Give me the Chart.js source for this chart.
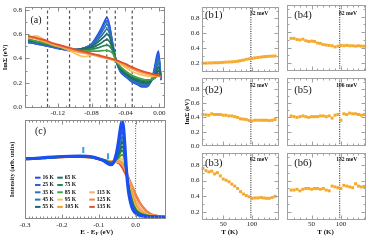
<!DOCTYPE html>
<html><head><meta charset="utf-8"><title>ImΣ panels</title>
<script src="https://cdn.jsdelivr.net/npm/chart.js@4.4.1/dist/chart.umd.min.js"></script>
<style>
html,body{margin:0;padding:0;background:#fff;overflow:hidden}
#fig{position:relative;width:374px;height:241px;background:#fff}
#fig canvas{position:absolute;left:0;top:0}
</style></head><body>
<div id="fig">
<canvas id="cA" width="374" height="241"></canvas>
<canvas id="cC" width="374" height="241"></canvas>
<canvas id="cB1" width="374" height="241"></canvas>
<canvas id="cB2" width="374" height="241"></canvas>
<canvas id="cB3" width="374" height="241"></canvas>
<canvas id="cB4" width="374" height="241"></canvas>
<canvas id="cB5" width="374" height="241"></canvas>
<canvas id="cB6" width="374" height="241"></canvas>
</div>
<script>
// ---------------- data ----------------
const temps = ['16 K','25 K','35 K','45 K','55 K','65 K','75 K','85 K','95 K','105 K','115 K','125 K','135 K'];
const tempColors = ['#1c4ff2','#2d63db','#2c70c2','#2a76a3','#1e6577','#1d705c','#2a8450','#44a049','#f6c35e','#f29b2e','#f6ad77','#ef8446','#e4502b'];

// panel (a): ImSigma vs energy
const energyA = [-0.155,-0.145,-0.135,-0.125,-0.115,-0.105,-0.095,-0.087,-0.080,-0.074,-0.069,-0.065,-0.062,-0.059,-0.055,-0.051,-0.046,-0.040,-0.033,-0.026,-0.020,-0.015,-0.010,-0.006,-0.003,-0.001,0.002];
const imS16  = [0.53,0.52,0.505,0.49,0.475,0.465,0.47,0.49,0.52,0.58,0.64,0.70,0.735,0.68,0.52,0.38,0.29,0.25,0.21,0.185,0.165,0.165,0.21,0.31,0.42,0.46,0.22];
const imS25  = [0.535,0.52,0.505,0.49,0.478,0.468,0.472,0.49,0.515,0.57,0.625,0.68,0.71,0.665,0.515,0.38,0.295,0.255,0.215,0.19,0.172,0.172,0.21,0.30,0.39,0.43,0.23];
const imS35  = [0.54,0.525,0.51,0.495,0.48,0.47,0.475,0.49,0.51,0.555,0.605,0.65,0.68,0.64,0.51,0.38,0.30,0.26,0.222,0.198,0.18,0.18,0.21,0.28,0.36,0.40,0.235];
const imS45  = [0.545,0.53,0.515,0.5,0.485,0.473,0.475,0.488,0.505,0.54,0.58,0.615,0.64,0.61,0.50,0.38,0.305,0.265,0.23,0.206,0.19,0.188,0.21,0.265,0.33,0.365,0.24];
const imS55  = [0.55,0.535,0.52,0.503,0.487,0.475,0.475,0.485,0.498,0.525,0.555,0.58,0.60,0.58,0.49,0.38,0.31,0.272,0.238,0.215,0.2,0.197,0.21,0.25,0.30,0.33,0.24];
const imS65  = [0.55,0.535,0.52,0.503,0.488,0.475,0.472,0.478,0.488,0.505,0.525,0.545,0.555,0.54,0.475,0.38,0.318,0.28,0.246,0.224,0.21,0.206,0.215,0.24,0.275,0.30,0.245];
const imS75  = [0.555,0.54,0.522,0.505,0.49,0.475,0.468,0.47,0.476,0.485,0.495,0.505,0.51,0.5,0.46,0.38,0.325,0.288,0.255,0.233,0.22,0.215,0.22,0.235,0.258,0.275,0.245];
const imS85  = [0.56,0.54,0.525,0.505,0.49,0.475,0.462,0.46,0.46,0.46,0.462,0.465,0.465,0.46,0.44,0.38,0.333,0.297,0.264,0.242,0.23,0.224,0.226,0.235,0.25,0.26,0.245];
const imS95  = [0.57,0.585,0.55,0.51,0.49,0.46,0.425,0.415,0.43,0.43,0.42,0.415,0.41,0.405,0.395,0.378,0.355,0.325,0.295,0.275,0.262,0.255,0.25,0.252,0.255,0.258,0.25];
const imS105 = [0.575,0.56,0.535,0.51,0.49,0.47,0.45,0.44,0.43,0.42,0.41,0.405,0.4,0.395,0.386,0.376,0.36,0.34,0.315,0.295,0.28,0.27,0.262,0.258,0.256,0.255,0.25];
const imS115 = [0.58,0.56,0.54,0.515,0.495,0.475,0.455,0.445,0.435,0.425,0.415,0.408,0.403,0.397,0.39,0.38,0.365,0.345,0.32,0.3,0.285,0.275,0.268,0.262,0.258,0.256,0.25];
const imS125 = [0.58,0.565,0.545,0.52,0.5,0.48,0.46,0.448,0.437,0.427,0.418,0.41,0.405,0.4,0.392,0.383,0.37,0.35,0.325,0.305,0.29,0.28,0.272,0.265,0.26,0.258,0.252];
const imS135 = [0.585,0.57,0.55,0.525,0.505,0.485,0.465,0.452,0.44,0.43,0.42,0.413,0.408,0.402,0.395,0.386,0.373,0.355,0.33,0.31,0.295,0.285,0.276,0.268,0.262,0.26,0.255];
const imSigmaA = [imS16,imS25,imS35,imS45,imS55,imS65,imS75,imS85,imS95,imS105,imS115,imS125,imS135];
const cutEnergies = [-0.132,-0.106,-0.082,-0.062,-0.052,-0.032];
const xTicksA = [-0.12,-0.08,-0.04,0.0];
const xLabelsA = ['-0.12','-0.08','-0.04','0.00'];
const yTicksA = [0,0.2,0.4,0.6,0.8];
const yLabelsA = ['0.0','0.2','0.4','0.6','0.8'];

// panel (c): EDCs
const energyC = [-0.30,-0.27,-0.24,-0.21,-0.18,-0.15,-0.12,-0.10,-0.085,-0.075,-0.068,-0.06,-0.052,-0.046,-0.041,-0.037,-0.033,-0.029,-0.025,-0.02,-0.015,-0.01,-0.005,0,0.006,0.012,0.02,0.03,0.045,0.06,0.08];
const edc16  = [0.615,0.62,0.628,0.635,0.64,0.642,0.635,0.615,0.59,0.565,0.555,0.575,0.67,0.80,0.93,1.0,0.94,0.74,0.5,0.3,0.19,0.12,0.08,0.06,0.045,0.035,0.03,0.025,0.022,0.02,0.02];
const edc25  = [0.614,0.62,0.627,0.634,0.64,0.641,0.634,0.614,0.59,0.567,0.558,0.575,0.66,0.78,0.89,0.95,0.9,0.72,0.5,0.31,0.2,0.13,0.09,0.065,0.048,0.037,0.031,0.026,0.022,0.02,0.02];
const edc35  = [0.613,0.619,0.627,0.634,0.639,0.641,0.634,0.614,0.592,0.57,0.56,0.575,0.65,0.75,0.84,0.89,0.85,0.69,0.49,0.31,0.21,0.14,0.095,0.07,0.05,0.04,0.033,0.027,0.023,0.02,0.02];
const edc45  = [0.613,0.619,0.626,0.633,0.638,0.64,0.633,0.613,0.595,0.573,0.563,0.575,0.64,0.72,0.79,0.84,0.80,0.67,0.48,0.32,0.22,0.15,0.10,0.075,0.055,0.043,0.035,0.028,0.023,0.021,0.02];
const edc55  = [0.612,0.618,0.626,0.633,0.638,0.639,0.632,0.613,0.598,0.576,0.566,0.576,0.63,0.70,0.75,0.79,0.76,0.65,0.48,0.33,0.23,0.16,0.11,0.08,0.06,0.046,0.037,0.029,0.024,0.021,0.02];
const edc65  = [0.612,0.618,0.625,0.632,0.637,0.638,0.631,0.612,0.6,0.58,0.57,0.578,0.62,0.67,0.71,0.74,0.72,0.63,0.48,0.34,0.24,0.17,0.12,0.087,0.065,0.05,0.04,0.031,0.025,0.022,0.02];
const edc75  = [0.611,0.617,0.625,0.632,0.636,0.637,0.63,0.612,0.6,0.583,0.575,0.58,0.61,0.65,0.68,0.70,0.685,0.61,0.48,0.35,0.25,0.18,0.13,0.095,0.07,0.054,0.043,0.033,0.026,0.022,0.02];
const edc85  = [0.611,0.617,0.624,0.631,0.636,0.636,0.63,0.611,0.6,0.586,0.578,0.582,0.605,0.625,0.645,0.655,0.645,0.59,0.48,0.36,0.27,0.195,0.14,0.105,0.078,0.06,0.046,0.035,0.027,0.023,0.021];
const edc95  = [0.61,0.616,0.624,0.631,0.635,0.635,0.629,0.611,0.602,0.59,0.582,0.584,0.598,0.61,0.615,0.615,0.60,0.56,0.48,0.38,0.29,0.215,0.16,0.12,0.09,0.068,0.05,0.037,0.028,0.024,0.021];
const edc105 = [0.61,0.616,0.623,0.63,0.634,0.634,0.628,0.61,0.602,0.592,0.585,0.585,0.59,0.595,0.59,0.58,0.565,0.53,0.47,0.40,0.33,0.26,0.2,0.155,0.115,0.085,0.06,0.042,0.03,0.025,0.022];
const edc115 = [0.61,0.615,0.623,0.63,0.634,0.634,0.628,0.61,0.604,0.594,0.587,0.586,0.586,0.585,0.578,0.565,0.545,0.51,0.46,0.41,0.36,0.30,0.245,0.2,0.155,0.115,0.08,0.052,0.035,0.027,0.023];
const edc125 = [0.609,0.615,0.622,0.629,0.633,0.633,0.627,0.609,0.6,0.593,0.588,0.587,0.585,0.58,0.57,0.555,0.535,0.51,0.475,0.435,0.39,0.345,0.30,0.255,0.21,0.165,0.12,0.075,0.045,0.032,0.025];
const edc135 = [0.609,0.614,0.622,0.629,0.633,0.632,0.626,0.609,0.598,0.59,0.585,0.585,0.58,0.57,0.55,0.53,0.5,0.47,0.44,0.40,0.36,0.32,0.28,0.24,0.20,0.16,0.12,0.08,0.045,0.03,0.025];
const edcC = [edc16,edc25,edc35,edc45,edc55,edc65,edc75,edc85,edc95,edc105,edc115,edc125,edc135];
const markerE = [-0.142,-0.075];
const markerI = [0.705,0.64];
const xTicksC = [-0.3,-0.2,-0.1,0.0];
const xLabelsC = ['-0.3','-0.2','-0.1','0.0'];

// panels (b1)-(b6): ImSigma vs T at fixed energies
const tempB = [15,20,25,30,35,40,45,50,55,60,65,70,75,80,85,90,95,100,105,110,115,120,125,130,135,140];
const imB1 = [0.205,0.205,0.207,0.208,0.21,0.21,0.212,0.215,0.218,0.22,0.222,0.225,0.23,0.238,0.245,0.255,0.262,0.268,0.275,0.28,0.285,0.29,0.293,0.296,0.298,0.3];
const imB2 = [0.44,0.435,0.43,0.45,0.44,0.44,0.44,0.43,0.43,0.42,0.42,0.41,0.40,0.38,0.375,0.37,0.355,0.35,0.36,0.36,0.36,0.36,0.36,0.355,0.36,0.37];
const imB3 = [0.755,0.725,0.71,0.72,0.685,0.70,0.66,0.62,0.605,0.585,0.555,0.53,0.50,0.46,0.43,0.41,0.395,0.375,0.38,0.38,0.385,0.38,0.375,0.375,0.385,0.40];
const imB4 = [0.52,0.52,0.505,0.5,0.51,0.49,0.48,0.485,0.48,0.46,0.455,0.44,0.435,0.43,0.425,0.41,0.42,0.43,0.425,0.43,0.425,0.425,0.42,0.425,0.42,0.42];
const imB5 = [0.42,0.41,0.40,0.41,0.42,0.41,0.40,0.41,0.41,0.41,0.42,0.42,0.41,0.42,0.39,0.43,0.44,0.36,0.45,0.44,0.46,0.45,0.45,0.44,0.43,0.44];
const imB6 = [0.48,0.48,0.49,0.47,0.49,0.5,0.5,0.49,0.5,0.5,0.49,0.5,0.48,0.47,0.53,0.52,0.51,0.5,0.54,0.53,0.52,0.51,0.56,0.53,0.52,0.525];
const panelNamesB = ['(b1)','(b2)','(b3)','(b4)','(b5)','(b6)'];
const cutLabelsB = ['32 meV','52 meV','62 meV','82 meV','106 meV','132 meV'];
const tcB = 98;
const xTicksB = [50,100];
const xLabelsB = ['50','100'];
const yTicksB = [0.2,0.4,0.6,0.8];
const yLabelsB = ['0.2','0.4','0.6','0.8'];
const yTicksB2 = [0,0.2,0.4,0.6,0.8];
const yLabelsB2 = ['0.0','0.2','0.4','0.6','0.8'];

// ---------------- drawing ----------------
const W = 374, H = 241;
const SERIF = "'Liberation Serif','Times New Roman',serif";
const bOrange = '#f6a92a';

function steps(a, b, s) { const o = []; const n = Math.round((b - a) / s); for (let i = 0; i <= n; i++) o.push(+(a + i * s).toFixed(6)); return o; }

function framePlugin(f) {
  return { id: 'frame', afterDatasetsDraw(chart) {
    const { ctx, chartArea: a } = chart; const x = chart.scales.x, y = chart.scales.y;
    const L = Math.floor(a.left) + 0.5, R = Math.ceil(a.right) - 0.5, T = Math.floor(a.top) + 0.5, B = Math.ceil(a.bottom) - 0.5;
    ctx.save(); ctx.strokeStyle = f.color || '#8f8f8f'; ctx.lineWidth = 1; ctx.setLineDash([]);
    ctx.beginPath();
    const vx = (vals, len) => vals.forEach(v => { const p = Math.round(x.getPixelForValue(v)) + 0.5; if (p < L + 0.9 || p > R - 0.9) return; ctx.moveTo(p, B); ctx.lineTo(p, B - len); ctx.moveTo(p, T); ctx.lineTo(p, T + len); });
    const vy = (vals, len) => vals.forEach(v => { const p = Math.round(y.getPixelForValue(v)) + 0.5; if (p < T + 0.9 || p > B - 0.9) return; ctx.moveTo(L, p); ctx.lineTo(L + len, p); ctx.moveTo(R, p); ctx.lineTo(R - len, p); });
    if (f.xMajor) vx(f.xMajor, 4); if (f.xMinor) vx(f.xMinor, 2);
    if (f.yMajor) vy(f.yMajor, 4); if (f.yMinor) vy(f.yMinor, 2);
    ctx.stroke();
    ctx.strokeRect(L, T, R - L, B - T);
    ctx.restore();
  }};
}

function textPlugin(items) {
  return { id: 'texts', afterDraw(chart) {
    const ctx = chart.ctx;
    items.forEach(it => {
      ctx.save(); ctx.fillStyle = it.color || '#111'; ctx.textBaseline = 'middle';
      let x = it.x;
      if (it.xv !== undefined) x = chart.scales.x.getPixelForValue(it.xv) + (it.dx || 0);
      if (it.parts) {
        let total = 0;
        it.parts.forEach(p => { ctx.font = p.font; total += ctx.measureText(p.t).width; });
        let px = x - total / 2;
        it.parts.forEach(p => { ctx.font = p.font; ctx.textAlign = 'left'; ctx.fillText(p.t, px, it.y + (p.dy || 0)); px += ctx.measureText(p.t).width; });
      } else {
        ctx.font = it.font; ctx.textAlign = it.align || 'left'; ctx.fillText(it.t, x, it.y);
      }
      ctx.restore();
    });
  }};
}

function legendPlugin(o) {
  return { id: 'edcLegend', afterDraw(chart) {
    const ctx = chart.ctx; ctx.save();
    temps.forEach((label, i) => {
      const col = i < 5 ? 0 : i < 10 ? 1 : 2;
      const row = i < 5 ? i : i < 10 ? i - 5 : i - 8;
      const x = o.colX[col], y = o.y0 + row * o.dy;
      ctx.strokeStyle = tempColors[i]; ctx.lineWidth = 2;
      ctx.beginPath(); ctx.moveTo(x, y); ctx.lineTo(x + o.len, y); ctx.stroke();
      ctx.fillStyle = '#111'; ctx.font = o.font; ctx.textBaseline = 'middle'; ctx.textAlign = 'left';
      ctx.fillText(label, x + o.len + 2, y);
    });
    ctx.restore();
  }};
}

function build(id, box, o) {
  const yW = box.yW || 0, xH = box.xH || 0;
  const tickFont = { family: SERIF, size: 7 };
  const cfg = {
    type: 'line',
    data: { datasets: o.datasets },
    options: {
      responsive: false, animation: false, devicePixelRatio: 1, events: [],
      layout: { padding: { left: box.l - yW, top: box.t, right: W - box.r, bottom: H - box.b - xH } },
      plugins: { legend: { display: false }, tooltip: { enabled: false } },
      elements: { point: { radius: 0 }, line: { tension: 0 } },
      scales: {
        x: {
          type: 'linear', min: o.x.min, max: o.x.max, display: !!o.x.labels,
          grid: { display: false, drawTicks: false }, border: { display: false },
          ticks: { display: !!o.x.labels, autoSkip: false, maxRotation: 0, minRotation: 0, padding: o.x.pad || 0, color: '#1a1a1a', font: tickFont,
                   callback: (v, i) => (o.x.labels ? o.x.labels[i] : '') },
          afterBuildTicks: s => { s.ticks = (o.x.ticks || []).map(v => ({ value: v })); },
          afterFit: s => { s.height = xH; }
        },
        y: {
          type: 'linear', min: o.y.min, max: o.y.max, display: !!(o.y.labels || o.y.title),
          grid: { display: false, drawTicks: false }, border: { display: false },
          title: { display: !!o.y.title, text: o.y.title || '', color: '#111', padding: 0, font: { family: SERIF, size: o.y.titleSize || 6.5, weight: 'bold' } },
          ticks: { display: !!o.y.labels, autoSkip: false, padding: o.y.pad || 0, color: '#1a1a1a', font: tickFont,
                   callback: (v, i) => (o.y.labels ? o.y.labels[i] : '') },
          afterBuildTicks: s => { s.ticks = (o.y.ticks || []).map(v => ({ value: v })); },
          afterFit: s => { s.width = yW; }
        }
      }
    },
    plugins: [framePlugin(o.frame), textPlugin(o.texts || []), ...(o.extra || [])]
  };
  return new Chart(document.getElementById(id), cfg);
}

// ----- panel (a)
const yMinA = 0, yMaxA = 0.817;
const dsA = imSigmaA.map((arr, i) => ({
  data: arr.map((v, j) => ({ x: energyA[j], y: v })),
  borderColor: tempColors[i], borderWidth: 1.7, pointRadius: 0,
  cubicInterpolationMode: 'monotone', order: imSigmaA.length - i
}));
cutEnergies.forEach(e => dsA.push({
  data: [{ x: e, y: yMinA }, { x: e, y: yMaxA }], borderColor: '#555', borderWidth: 1.2,
  borderDash: [3, 2.5], pointRadius: 0, order: 50
}));
build('cA', { l: 25.5, t: 7, r: 165, b: 107, yW: 23.6, xH: 12 }, {
  datasets: dsA,
  x: { min: -0.158, max: 0.0067, ticks: xTicksA, labels: xLabelsA, pad: 1.5 },
  y: { min: yMinA, max: yMaxA, ticks: yTicksA, labels: yLabelsA, pad: 3.5, title: 'ImΣ (eV)' },
  frame: { color: '#8a8a8a', xMajor: xTicksA, xMinor: steps(-0.15, 0.0, 0.01), yMajor: yTicksA, yMinor: steps(0.1, 0.7, 0.2) },
  texts: [{ t: '(a)', x: 30.5, y: 20.5, font: `10px ${SERIF}` }]
});

// ----- panel (c)
const yMinC = 0, yMaxC = 1.01;
const dsC = edcC.map((arr, i) => ({
  data: arr.map((v, j) => ({ x: energyC[j], y: v })),
  borderColor: tempColors[i], borderWidth: i === 0 ? 3.2 : 2, pointRadius: 0,
  cubicInterpolationMode: 'monotone'
}));
dsC.unshift({
  data: markerE.map((e, i) => ({ x: e, y: markerI[i] })), showLine: false,
  pointStyle: 'line', pointRadius: 3, pointRotation: 90, pointBorderWidth: 2,
  pointBorderColor: '#3a9fe6', borderColor: '#3a9fe6'
});
dsC.push({ data: [{ x: 0, y: yMinC }, { x: 0, y: yMaxC }], borderColor: '#555', borderWidth: 1, borderDash: [1, 1.5], pointRadius: 0, order: 50 });
build('cC', { l: 25, t: 120, r: 165.5, b: 219, yW: 16.6, xH: 16 }, {
  datasets: dsC,
  x: { min: -0.3, max: 0.081, ticks: xTicksC, labels: xLabelsC, pad: 2 },
  y: { min: yMinC, max: yMaxC, title: 'Intensity (arb. units)', titleSize: 6.3 },
  frame: { color: '#8a8a8a', xMajor: xTicksC, xMinor: steps(-0.29, 0.08, 0.01) },
  texts: [
    { t: '(c)', x: 35, y: 131.5, font: `10px ${SERIF}` },
    { x: 96.7, y: 232, parts: [
      { t: 'E - E', font: `bold 7px ${SERIF}` },
      { t: 'F', font: `bold 5px ${SERIF}`, dy: 1.8 },
      { t: ' (eV)', font: `bold 7px ${SERIF}` } ] }
  ],
  extra: [legendPlugin({ colX: [35, 57.3, 89.3], y0: 177.7, dy: 7.3, len: 5.5, font: `bold 5.6px ${SERIF}` })]
});

// ----- panels (b)
const seriesB = [imB1, imB2, imB3, imB4, imB5, imB6];
const rowsB = [{ t: 5, b: 71 }, { t: 78, b: 146 }, { t: 153, b: 220 }];
const colsB = [{ l: 202.5, r: 278.5, min: 14, max: 146 }, { l: 287, r: 365.5, min: 8, max: 142 }];
const nameY = [15.7, 90, 163.5];
const cutY = [14, 85.7, 160];
seriesB.forEach((vals, k) => {
  const col = k < 3 ? 0 : 1, row = k % 3;
  const C = colsB[col], R = rowsB[row];
  const yMin = row === 1 ? 0 : 0.1, yMax = 0.95;
  const ds = [
    { data: vals.map((v, j) => ({ x: tempB[j], y: v })), showLine: false, pointStyle: 'rect',
      pointRadius: 2.1, pointBackgroundColor: bOrange, pointBorderColor: bOrange, pointBorderWidth: 0, clip: false },
    { data: [{ x: tcB, y: yMin }, { x: tcB, y: yMax }], borderColor: '#111', borderWidth: 1, borderDash: [1, 1.3], pointRadius: 0 }
  ];
  const texts = [
    { t: panelNamesB[k], x: C.l + (col === 0 ? 2.5 : 7.3), y: nameY[row], font: `10.5px ${SERIF}` },
    { t: cutLabelsB[k], xv: tcB, dx: cutLabelsB[k].length > 6 ? -3.5 : -0.8, y: cutY[row], font: `bold 5.6px ${SERIF}` }
  ];
  if (row === 2) texts.push({ t: 'T (K)', x: col === 0 ? 229.5 : 325.6, y: 232, align: 'center', font: `bold 7px ${SERIF}` });
  const yt = row === 1 ? yTicksB2 : yTicksB, yl = row === 1 ? yLabelsB2 : yLabelsB;
  build('cB' + (k + 1), { l: C.l, t: R.t, r: C.r, b: R.b, yW: col === 0 ? 18.7 : 0, xH: row === 2 ? 10 : 0 }, {
    datasets: ds,
    x: { min: C.min, max: C.max, ticks: xTicksB, labels: row === 2 ? xLabelsB : null, pad: 0.3 },
    y: { min: yMin, max: yMax, ticks: yt, labels: col === 0 ? yl : null, pad: 3, title: (col === 0 && row === 1) ? 'ImΣ (eV)' : null },
    frame: { color: '#a0a0a0', xMajor: xTicksB, xMinor: steps(20, 140, 10), yMajor: yt, yMinor: steps(0.1, 0.9, 0.2) },
    texts
  });
});
</script>
</body></html>
